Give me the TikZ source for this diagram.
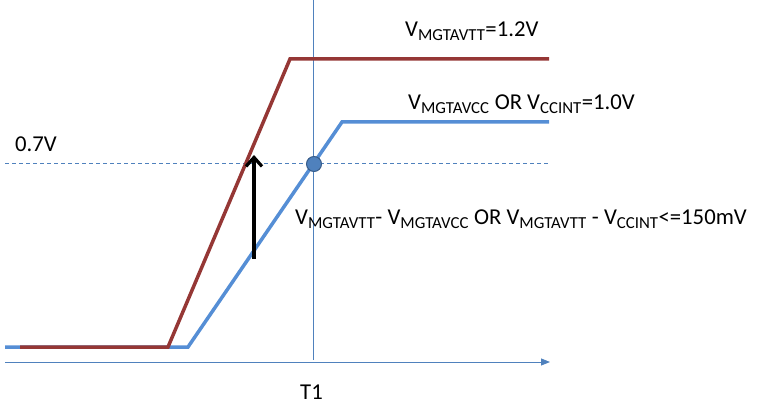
\documentclass[tikz,border=0pt]{standalone}
\usepackage{fontspec}
\setmainfont{Carlito}
\usetikzlibrary{arrows.meta}
\definecolor{dred}{RGB}{149,55,53}
\definecolor{lblue}{RGB}{85,142,213}
\definecolor{ablue}{RGB}{79,129,189}
\definecolor{cborder}{RGB}{56,93,138}
\tikzset{
  curve/.style={line width=3.5pt},
  guide/.style={ablue, line width=0.9pt},
  lbl/.style={anchor=base west, inner sep=0pt, font=\fontsize{22.7}{26}\selectfont},
}
\newcommand{\sbs}[1]{\textsubscript{\fontsize{16.8}{18}\selectfont #1}}
\begin{document}
\begin{tikzpicture}[x=1pt,y=-1pt]
\useasboundingbox (0,0) rectangle (759,411);
% guides
\coordinate (vtop) at (313,0);
\coordinate (vbot) at (313,360);
\draw[guide] (vtop) -- (vbot);
\coordinate (ax0) at (5,362);
\coordinate (ax1) at (550,362);
\draw[guide,-{Triangle[length=9pt,width=7pt]}] (ax0) -- (ax1);
\coordinate (d0) at (5,163);
\coordinate (d1) at (550,163);
\draw[guide,dash pattern=on 4pt off 3pt] (d0) -- (d1);
% blue curve
\coordinate (b0) at (5,347);
\coordinate (b1) at (188,347);
\coordinate (b2) at (342,122);
\coordinate (b3) at (549,122);
\draw[curve,lblue] (b0) -- (b1) -- (b2) -- (b3);
% red curve
\coordinate (r0) at (20,347);
\coordinate (r1) at (168,347);
\coordinate (r2) at (290,59);
\coordinate (r3) at (549,59);
\draw[curve,dred] (r0) -- (r1) -- (r2) -- (r3);
% arrow
\coordinate (a0) at (254,259);
\coordinate (a1) at (254,155);
\draw[line width=3.2pt,-{Straight Barb[length=9pt,width=16pt]}] (a0) -- (a1);
% point
\node[circle,fill=ablue,draw=cborder,line width=1pt,minimum size=15pt,inner sep=0pt] (pt) at (314,164) {};
% labels
\node[lbl] (l07) at (15,152) {0.7V};
\node[lbl] (lt1) at (300,399) {T1};
\node[lbl] (lvtt) at (405,37) {V\sbs{MGTAVTT}=1.2V};
\node[lbl] (lvcc) at (408,110) {V\sbs{MGTAVCC} OR V\sbs{CCINT}=1.0V};
\node[lbl] (ldiff) at (295,225) {V\sbs{MGTAVTT}- V\sbs{MGTAVCC} OR V\sbs{MGTAVTT} - V\sbs{CCINT}<=150mV};
\end{tikzpicture}
\end{document}
